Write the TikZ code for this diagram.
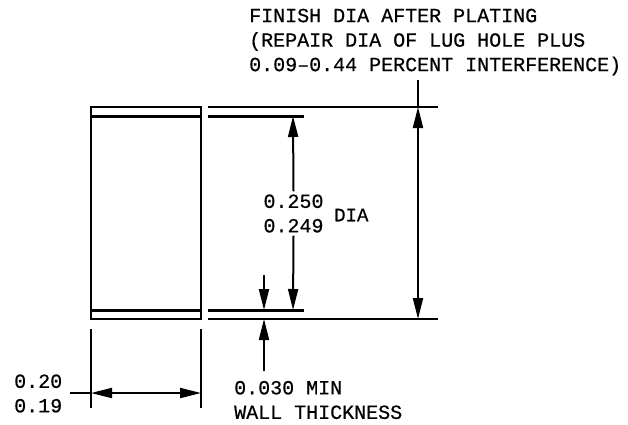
\documentclass[tikz,border=0pt]{standalone}
\usepackage{fontspec}
\setmonofont{Liberation Mono}[RawFeature={embolden=0.5}]
\usetikzlibrary{arrows.meta}
\tikzset{
	thinline/.style={line width=1.8pt},
	heavyline/.style={line width=3pt},
	dimline/.style={line width=2pt, -{Triangle[length=21pt,width=10pt]}},
	dimboth/.style={line width=2pt, {Triangle[length=21pt,width=10pt]}-{Triangle[length=21pt,width=10pt]}},
	dimtext/.style={font=\ttfamily\fontsize{20}{24.5}\selectfont, inner sep=0pt, align=left},
}

\begin{document}
\begin{tikzpicture}[x=1pt,y=-1pt]
	\useasboundingbox (0,0) rectangle (628,424);
	\coordinate (box-tl) at (91,107);
	\coordinate (box-tr) at (201,107);
	\coordinate (box-bl) at (91,319);
	\coordinate (box-br) at (201,319);
	\coordinate (wall-tl) at (91,116);
	\coordinate (wall-tr) at (201,116);
	\coordinate (wall-bl) at (91,310);
	\coordinate (wall-br) at (201,310);
	\coordinate (top-a) at (208,107);
	\coordinate (top-b) at (438,107);
	\coordinate (bore-a) at (208,116);
	\coordinate (bore-b) at (304,116);
	\coordinate (low-a) at (208,310);
	\coordinate (low-b) at (304,310);
	\coordinate (bot-a) at (208,319);
	\coordinate (bot-b) at (438,319);
	\coordinate (ext-l1) at (91,329);
	\coordinate (ext-l2) at (91,408);
	\coordinate (ext-r1) at (201,329);
	\coordinate (ext-r2) at (201,408);
	\coordinate (len-l) at (91,393);
	\coordinate (len-r) at (201,393);
	\coordinate (len-lead) at (70,393);
	\coordinate (finish-top) at (418,107);
	\coordinate (finish-bot) at (418,319);
	\coordinate (finish-lead) at (418,80);
	\coordinate (bore-top) at (293,116);
	\coordinate (bore-bot) at (293,310);
	\coordinate (wall-a) at (264,275);
	\coordinate (wall-b) at (264,310);
	\coordinate (wall-c) at (264,371);
	\coordinate (wall-d) at (264,319);

	\node[dimtext, anchor=west] (note) at (249,42) {FINISH DIA AFTER PLATING\\(REPAIR DIA OF LUG HOLE PLUS\\0.09–0.44 PERCENT INTERFERENCE)};
	\node[dimtext, anchor=center, outer sep=3pt] (bore) at (293.5,213.5) {0.250\\0.249};
	\node[dimtext, anchor=west, font=\ttfamily\fontsize{19}{20}\selectfont] (dia) at (334,215) {DIA};
	\node[dimtext, anchor=west] (len) at (14,393.5) {0.20\\0.19};
	\node[dimtext, anchor=west] (wall) at (234,400) {0.030 MIN\\WALL THICKNESS};

	\draw[thinline] (box-tl) -- (box-tr) -- (box-br) -- (box-bl) -- cycle;
	\draw[heavyline] (wall-tl) -- (wall-tr);
	\draw[heavyline] (wall-bl) -- (wall-br);
	\draw[thinline] (top-a) -- (top-b);
	\draw[heavyline] (bore-a) -- (bore-b);
	\draw[heavyline] (low-a) -- (low-b);
	\draw[thinline] (bot-a) -- (bot-b);
	\draw[thinline] (ext-l1) -- (ext-l2);
	\draw[thinline] (ext-r1) -- (ext-r2);

	% dimensions
	\draw[dimboth] (len-l) -- (len-r);
	\draw[thinline] (len-lead) -- (len-l);
	\draw[dimboth] (finish-top) -- (finish-bot);
	\draw[thinline] (finish-lead) -- (finish-top);
	\draw[dimline] (bore.north) -- (bore-top);
	\draw[dimline] (bore.south) -- (bore-bot);
	\draw[dimline] (wall-a) -- (wall-b);
	\draw[dimline] (wall-c) -- (wall-d);
\end{tikzpicture}
\end{document}
